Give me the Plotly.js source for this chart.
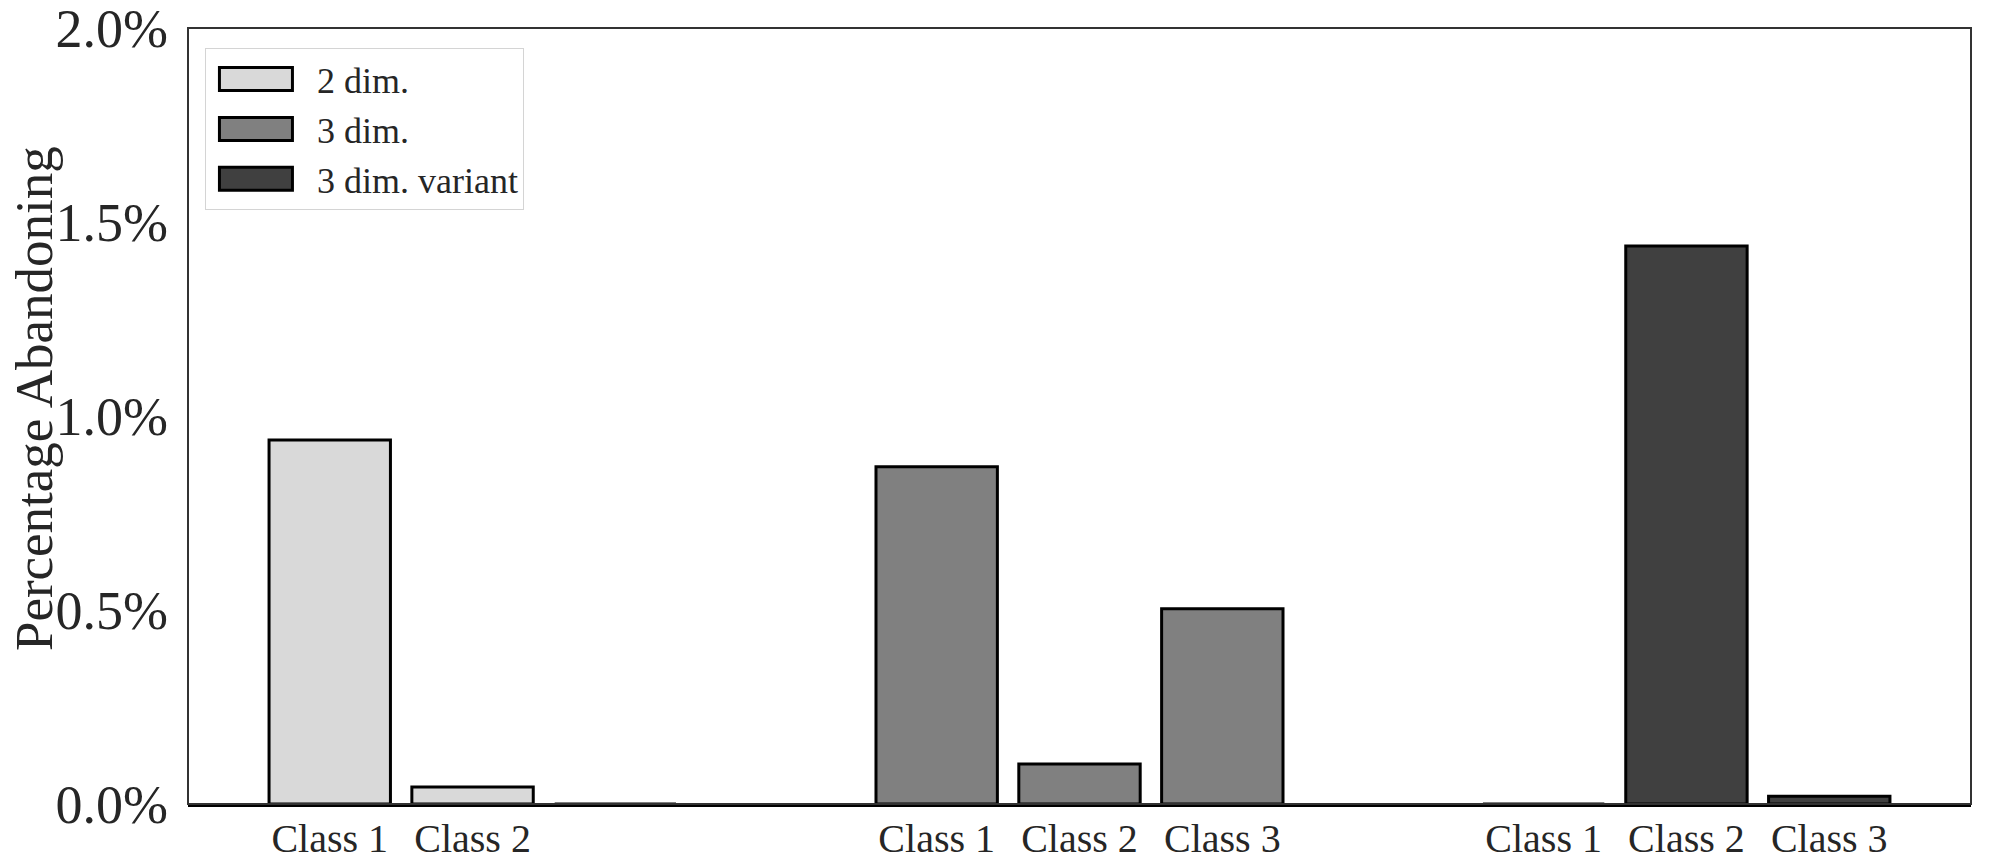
<!DOCTYPE html>
<html>
<head>
<meta charset="utf-8">
<script src="https://cdn.plot.ly/plotly-3.0.1.min.js"></script>
<style>
	html, body { margin: 0; padding: 0; background: #fff; }
	#chart { width: 2001px; height: 862px; }
</style>
</head>
<body>
<div id="chart"></div>
<script>
// series names, in legend order
var seriesNames = ['2 dim.', '3 dim.', '3 dim. variant'];

// tick labels under each bar of each group (the empty one has no label)
var classLabels = [
	['Class 1', 'Class 2', ''],
	['Class 1', 'Class 2', 'Class 3'],
	['Class 1', 'Class 2', 'Class 3']
];

// percentage abandoning, per class
var dim2 = [0.938, 0.044, 0.0];
var dim3 = [0.869, 0.103, 0.503];
var dim3Variant = [0.0, 1.438, 0.02];

// y axis ticks (percent)
var yTicks = [0, 0.5, 1.0, 1.5, 2.0];

var seriesValues = [dim2, dim3, dim3Variant];
var seriesColors = ['#d9d9d9', '#808080', '#404040'];

var barWidth = 0.85;
var groupStep = 4.25;
var font = 'Liberation Serif';

var traces = [];
var tickVals = [];
var tickText = [];
var lastPos = 0;

for (var g = 0; g < seriesValues.length; g++) {
	var xs = [];
	for (var c = 0; c < seriesValues[g].length; c++) {
		var pos = g * groupStep + c;
		xs.push(pos);
		tickVals.push(pos);
		tickText.push(classLabels[g][c]);
		lastPos = pos;
	}
	traces.push({
		type: 'bar',
		name: seriesNames[g],
		x: xs,
		y: seriesValues[g],
		width: barWidth,
		marker: {
			color: seriesColors[g],
			line: { color: '#000', width: 3 }
		},
		hoverinfo: 'y'
	});
}

// matplotlib style 5% margins around the bars
var xLo = -barWidth / 2;
var xHi = lastPos + barWidth / 2;
var pad = 0.05 * (xHi - xLo);

var layout = {
	width: 2001,
	height: 862,
	margin: { l: 188, r: 30, t: 28, b: 58 },
	paper_bgcolor: '#fff',
	plot_bgcolor: '#fff',
	barmode: 'overlay',
	showlegend: true,
	font: { family: font, color: '#262626' },
	xaxis: {
		range: [xLo - pad, xHi + pad],
		tickmode: 'array',
		tickvals: tickVals,
		ticktext: tickText,
		ticks: '',
		showgrid: false,
		zeroline: false,
		showline: true,
		linecolor: '#000',
		linewidth: 3,
		ticklabelstandoff: -3,
		tickfont: { size: 40, family: font, color: '#262626' }
	},
	yaxis: {
		range: [0, 2.0],
		tickmode: 'array',
		tickvals: yTicks,
		ticktext: yTicks.map(function (v) { return v.toFixed(1) + '%'; }),
		ticks: '',
		showgrid: false,
		zeroline: false,
		showline: false,
		ticklabelstandoff: 19,
		ticklabeloverflow: 'allow',
		tickfont: { size: 54, family: font, color: '#262626' }
	},
	annotations: [{
		text: 'Percentage Abandoning',
		textangle: -90,
		xref: 'paper', yref: 'paper',
		x: -0.0864, y: 0.523,
		xanchor: 'center', yanchor: 'middle',
		showarrow: false,
		borderpad: 0,
		font: { size: 53, family: font, color: '#262626' }
	}],
	legend: {
		x: 0.0095,
		y: 0.974,
		xanchor: 'left',
		yanchor: 'top',
		bgcolor: '#fff',
		bordercolor: '#d4d4d4',
		borderwidth: 1,
		traceorder: 'normal',
		itemwidth: 101,
		font: { size: 36, family: font, color: '#262626' }
	},
	shapes: [{
		type: 'rect',
		xref: 'paper', yref: 'paper',
		x0: 0, x1: 1, y0: 0, y1: 1,
		line: { color: '#333', width: 2 },
		layer: 'above'
	}]
};

var config = { displayModeBar: false, staticPlot: true };

Plotly.newPlot('chart', traces, layout, config).then(function (gd) {
	// widen the legend swatches like the original rectangles
	var paths = gd.querySelectorAll('.legend .legendpoints path');
	for (var i = 0; i < paths.length; i++) {
		paths[i].setAttribute('d', 'M-42,-11.5H31V11.5H-42Z');
		paths[i].style.strokeWidth = '3px';
	}
});
</script>
</body>
</html>
